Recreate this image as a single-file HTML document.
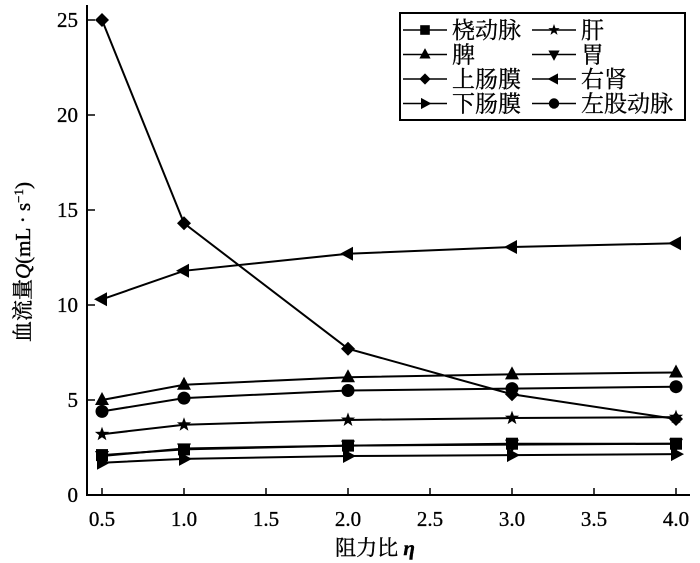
<!DOCTYPE html>
<html><head><meta charset="utf-8"><style>
body{margin:0;background:#fff}
svg{display:block;font-family:"Liberation Serif","Noto Serif CJK SC",serif}
</style></head><body>
<svg id="c" width="700" height="563"></svg>
<script>
const xs=[0.5,1.0,2.0,3.0,4.0];
const names=["桡动脉","脾","上肠膜","下肠膜","肝","胃","右肾","左股动脉"];
const markers=["square","tri","diamond","right","star","down","left","circle"];
const radial=[2.1,2.4,2.6,2.7,2.7];
const spleen=[5.0,5.8,6.2,6.35,6.45];
const upperMes=[25,14.3,7.7,5.3,4.0];
const lowerMes=[1.7,1.9,2.05,2.1,2.15];
const liver=[3.2,3.7,3.95,4.05,4.1];
const stomach=[2.05,2.45,2.6,2.65,2.7];
const rightKidney=[10.3,11.8,12.7,13.05,13.25];
const leftFemoral=[4.4,5.1,5.5,5.6,5.7];
const series=[radial,spleen,upperMes,lowerMes,liver,stomach,rightKidney,leftFemoral];
const xTicks=[0.5,1.0,1.5,2.0,2.5,3.0,3.5,4.0];
const yTicks=[0,5,10,15,20,25];
const NS="http://www.w3.org/2000/svg";
const svg=document.getElementById('c');
const X=v=>102+(v-0.5)*164;
const Y=v=>495-v*19;
function el(t,a,p){const e=document.createElementNS(NS,t);for(const k in a)e.setAttribute(k,a[k]);(p||svg).appendChild(e);return e;}
function marker(type,x,y,g){
 let e;
 if(type=="square")e=el('rect',{x:x-6,y:y-6,width:12,height:12},g);
 else if(type=="circle")e=el('circle',{cx:x,cy:y,r:6.5},g);
 else if(type=="tri")e=el('polygon',{points:`${x},${y-8} ${x-7},${y+5} ${x+7},${y+5}`},g);
 else if(type=="down")e=el('polygon',{points:`${x},${y+8} ${x-7},${y-5} ${x+7},${y-5}`},g);
 else if(type=="left")e=el('polygon',{points:`${x-8},${y} ${x+5},${y-7} ${x+5},${y+7}`},g);
 else if(type=="right")e=el('polygon',{points:`${x+8},${y} ${x-5},${y-7} ${x-5},${y+7}`},g);
 else if(type=="diamond")e=el('polygon',{points:`${x},${y-7} ${x+7},${y} ${x},${y+7} ${x-7},${y}`},g);
 else {let p=[];for(let i=0;i<10;i++){const r=i%2?3:7.5,a=-Math.PI/2+i*Math.PI/5;p.push((x+r*Math.cos(a)).toFixed(1)+','+(y+r*Math.sin(a)).toFixed(1));}e=el('polygon',{points:p.join(' ')},g);}
 e.setAttribute('fill','#000');
 return e;
}
const ax=el('path',{d:`M87,5 V495 H690`,fill:'none',stroke:'#000','stroke-width':2});


xTicks.forEach(v=>{
 el('line',{x1:X(v),x2:X(v),y1:495,y2:488,stroke:'#000','stroke-width':1.5});
 const t=el('text',{x:X(v),y:526,'text-anchor':'middle','font-size':21,'stroke':'#000','stroke-width':0.3});t.textContent=v.toFixed(1);
 
 
});
yTicks.forEach(v=>{
 el('line',{x1:87,x2:95,y1:Y(v),y2:Y(v),stroke:'#000','stroke-width':1.5});
 const t=el('text',{x:78,y:Y(v)+7,'text-anchor':'end','font-size':21,'stroke':'#000','stroke-width':0.3});t.textContent=v;
 
 
});
const xt=el('text',{x:375,y:555,'text-anchor':'middle','font-size':21,'stroke':'#000','stroke-width':0.4});
xt.innerHTML='阻力比 <tspan font-weight="bold" font-style="italic">η</tspan>';


const yt=el('text',{x:0,y:0,'text-anchor':'middle','font-size':21,'stroke':'#000','stroke-width':0.4,transform:'translate(30,262) rotate(-90)'});
yt.innerHTML='血流量<tspan font-style="italic">Q</tspan>(mL · s<tspan dy="-7" font-size="13">−1</tspan><tspan dy="7">)</tspan>';


series.forEach((d,i)=>{
 const g=el('g',{});
 
 
 el('polyline',{points:d.map((v,j)=>X(xs[j])+','+Y(v)).join(' '),fill:'none',stroke:'#000','stroke-width':2},g);
 d.forEach((v,j)=>marker(markers[i],X(xs[j]),Y(v),g));
});
const lg=el('g',{});


el('rect',{x:400,y:13,width:285,height:107,fill:'#fff',stroke:'#000','stroke-width':2},lg);
for(let i=0;i<8;i++){
 const col=i<4?0:1,row=i%4;
 const x0=col?532:403,y=30+row*24.5;
 const e=el('g',{},lg);
 
 
 el('line',{x1:x0,x2:x0+44,y1:y,y2:y,stroke:'#000','stroke-width':1.5},e);
 const m=marker(markers[i],x0+22,y,e);m.setAttribute('transform',`translate(${x0+22},${y}) scale(0.8) translate(${-(x0+22)},${-y})`);
 const t=el('text',{x:x0+49,y:y+8,'font-size':23,'font-family':'"Noto Serif CJK SC",serif','stroke':'#000','stroke-width':0.3},e);t.textContent=names[i];
}
</script>
</body></html>
